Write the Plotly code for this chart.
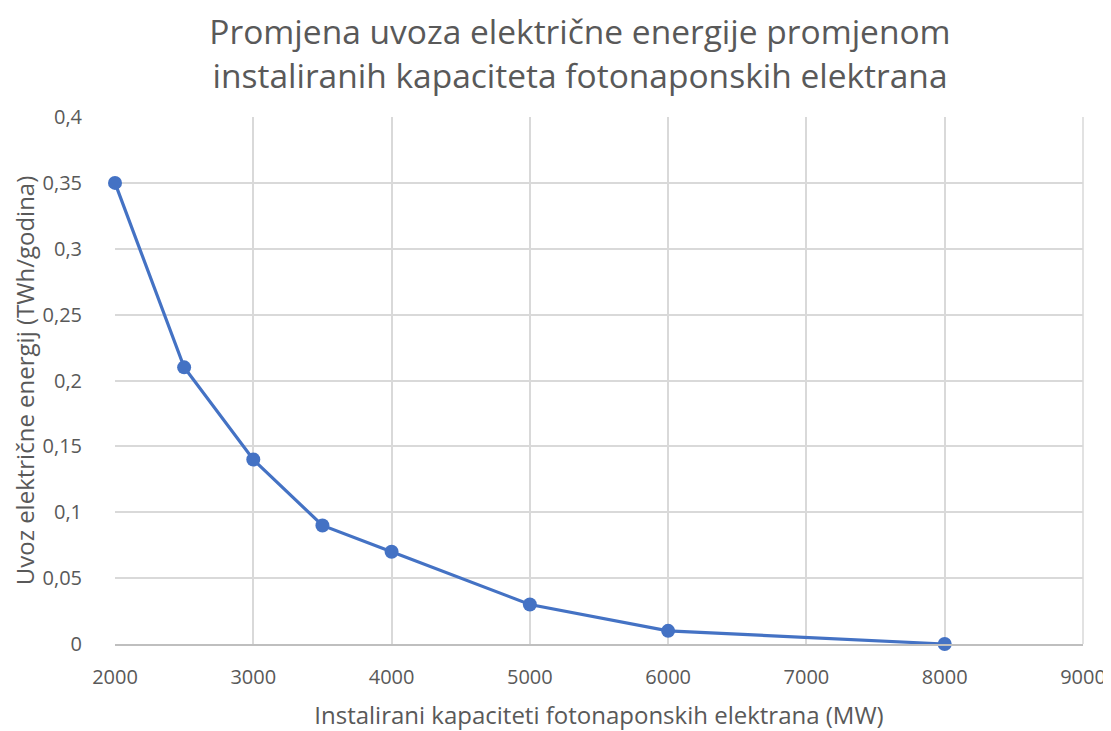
import plotly.graph_objects as go

capacity_mw = [2000, 2500, 3000, 3500, 4000, 5000, 6000, 8000]
import_twh = [0.35, 0.21, 0.14, 0.09, 0.07, 0.03, 0.01, 0.0]

title_text = "Promjena uvoza električne energije promjenom<br>instaliranih kapaciteta fotonaponskih elektrana"
x_title = "Instalirani kapaciteti fotonaponskih elektrana (MW)"
y_title = "Uvoz električne energij (TWh/godina)"

fig = go.Figure()
fig.add_trace(go.Scatter(
    x=capacity_mw, y=import_twh, mode="lines+markers",
    line=dict(color="#4472C4", width=3.2),
    marker=dict(color="#4472C4", size=14),
    showlegend=False,
    cliponaxis=False,
))

font_main = "Open Sans, Liberation Sans, sans-serif"
W, H = 1103, 723
fig.update_layout(
    width=W, height=H,
    paper_bgcolor="white", plot_bgcolor="white",
    margin=dict(l=107, r=28, t=109, b=87, autoexpand=False),
    separators=", ",
    title=dict(text=title_text, x=572 / W, xanchor="center", xref="container",
               y=1 - 36 / H, yanchor="top", yref="container",
               font=dict(family=font_main, size=33.5, color="#595959")),
    font=dict(family=font_main, color="#595959"),
)
# right border of the plot area drawn like a gridline
fig.add_shape(type="line", xref="x domain", yref="y domain", x0=1, x1=1, y0=0, y1=1,
              line=dict(color="#D9D9D9", width=1.5), layer="below")
fig.update_xaxes(
    range=[2000, 9000], dtick=1000, tick0=2000, automargin=False,
    showgrid=True, gridcolor="#D9D9D9", gridwidth=1.5,
    showline=True, linecolor="#BFBFBF", linewidth=2, mirror=False,
    zeroline=False, ticks="", ticklabelstandoff=14,
    tickfont=dict(size=20, color="#595959"),
    title=dict(text=x_title, font=dict(size=24, color="#595959"), standoff=20),
)
fig.update_yaxes(
    range=[0, 0.4], dtick=0.05, tick0=0, automargin=False,
    showgrid=True, gridcolor="#D9D9D9", gridwidth=1.5,
    showline=False, zeroline=False, ticks="", ticklabelstandoff=32,
    tickfont=dict(size=20, color="#595959"),
    title=dict(text=y_title, font=dict(size=24, color="#595959"), standoff=8),
)
fig.write_html("out.html")
